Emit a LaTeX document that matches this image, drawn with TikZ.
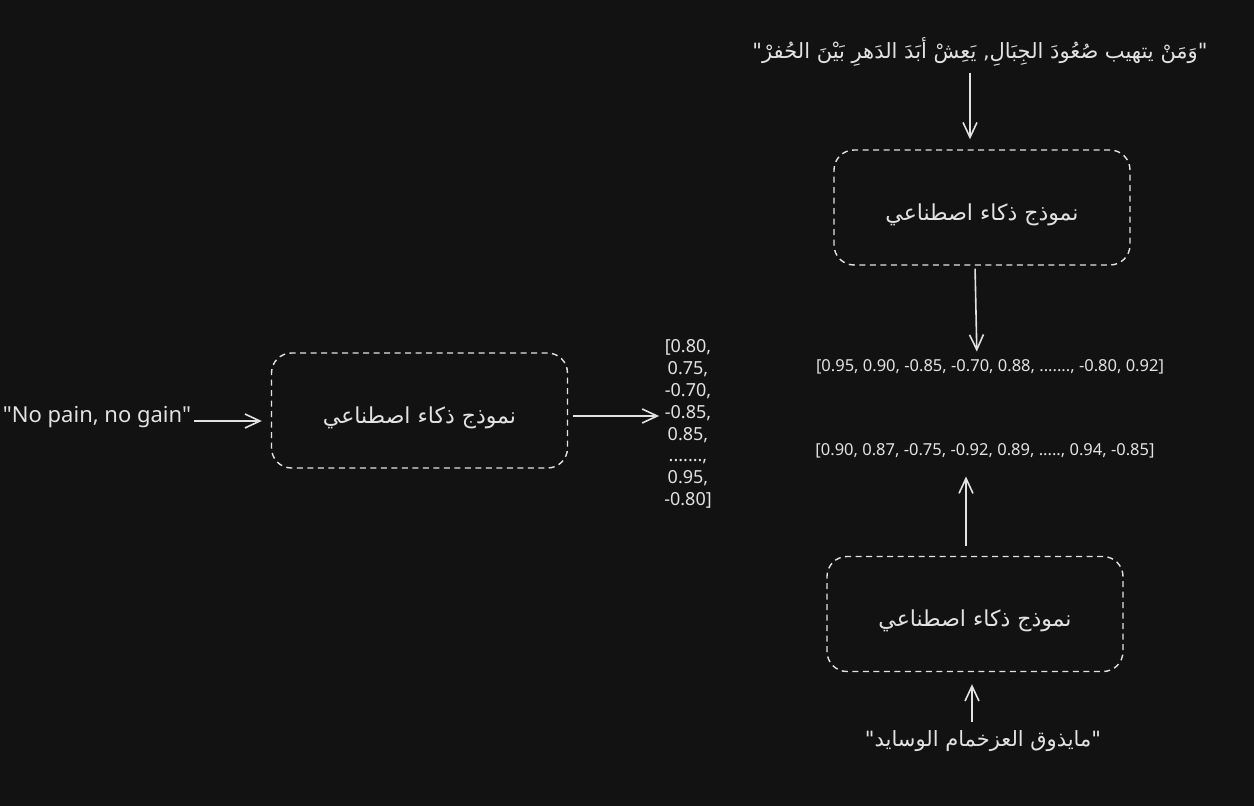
\documentclass[tikz,border=0pt]{standalone}
\usepackage{fontspec}
\setmainfont{Noto Sans}
\newfontfamily\plainfont{Noto Sans}
\newfontfamily\arabicfont[Script=Arabic]{DejaVu Sans}
\TeXXeTstate=1
\usetikzlibrary{arrows.meta,calc}
\definecolor{bg}{HTML}{121212}
\definecolor{fg}{HTML}{E2E2E2}
\newcommand{\boxlabel}{\raisebox{-7pt}[\height][\depth]{\beginR نموذج ذكاء اصطناعي\endR}}
\tikzset{
  box/.style={draw=fg, line width=1.4pt, dash pattern=on 6pt off 4.5pt, rounded corners=20pt,
    minimum width=296pt, minimum height=115pt, text=fg, font=\arabicfont\fontsize{22}{26}\selectfont},
  arr/.style={draw=fg, line width=1.6pt, -{Straight Barb[length=15pt,width=14pt,line width=1.6pt]}},
  lbl/.style={text=fg, inner sep=0pt},
}
\begin{document}
\begin{tikzpicture}[x=1pt,y=-1pt]
\fill[bg] (0,0) rectangle (1254,806);
\useasboundingbox (0,0) rectangle (1254,806);
% left pipeline
\node[lbl, font=\plainfont\fontsize{22}{26}\selectfont] (in1) at (97,417) {"No pain, no gain"};
\node[box] (b1) at (419.5,410.5) {\boxlabel};
\node[lbl, align=center, font=\fontsize{18}{21.9}\selectfont] (v0) at (688,424)
  {[0.80,\\0.75,\\-0.70,\\-0.85,\\0.85,\\.......,\\0.95,\\-0.80]};
\draw[arr, shorten <=3pt, shorten >=9pt] ([yshift=-4pt]in1.east) -- ([yshift=-10.5pt]b1.west);
\draw[arr, shorten <=5pt, shorten >=5pt] ([yshift=-5.5pt]b1.east) -- ([yshift=-5.5pt]b1.east -| v0.west);
% top-right pipeline
\node[lbl, font=\arabicfont\fontsize{21}{26}\selectfont] (q1) at (980,52)
  {\beginR "وَمَنْ يتهيب صُعُودَ الجِبَالِ, يَعِشْ أبَدَ الدَهرِ بَيْنَ الحُفرْ"\endR};
\node[box] (b2) at (982,207.5) {\boxlabel};
\node[lbl, font=\fontsize{16.5}{20}\selectfont] (v1) at (990,367)
  {[0.95, 0.90, -0.85, -0.70, 0.88, ......., -0.80, 0.92]};
\draw[arr, shorten <=6pt, shorten >=10pt] ([xshift=-10pt]q1.south) -- ([xshift=-12pt]b2.north);
\draw[arr, shorten <=3pt, shorten >=8pt] ([xshift=-7pt]b2.south) -- ([xshift=-13pt]v1.north);
% bottom-right pipeline
\node[lbl, font=\fontsize{16.5}{20}\selectfont] (v2) at (985,451)
  {[0.90, 0.87, -0.75, -0.92, 0.89, ....., 0.94, -0.85]};
\node[box] (b3) at (975,614) {\boxlabel};
\node[lbl, font=\arabicfont\fontsize{21}{26}\selectfont] (q2) at (983,741)
  {\beginR "مايذوق العزخمام الوسايد"\endR};
\draw[arr, shorten <=10pt, shorten >=18pt] ([xshift=-9pt]b3.north) -- ([xshift=-19pt]v2.south);
\draw[arr, shorten <=8pt, shorten >=12pt] ([xshift=-11pt]q2.north) -- ([xshift=-3pt]b3.south);
\end{tikzpicture}
\end{document}
